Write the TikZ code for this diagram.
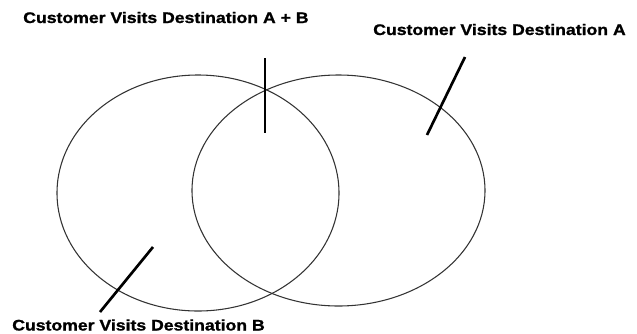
\documentclass[tikz,border=0pt]{standalone}
\usepackage{fontspec}
\newfontfamily\labfont[FakeStretch=1.15,FakeBold=1.2]{Liberation Sans Bold}
\usetikzlibrary{shapes.geometric}
\tikzset{
  venn/.style={ellipse, draw=black!80, line width=0.8pt, inner sep=0pt, outer sep=0pt},
  pointer/.style={draw=black, line width=2pt},
  lab/.style={inner sep=0pt, anchor=base west, font=\labfont\fontsize{11.5}{13}\selectfont, text=black}
}
\begin{document}
\begin{tikzpicture}[x=0.75pt, y=-0.75pt]
  \useasboundingbox (0,0) rectangle (637,333);
  \node[venn, minimum width=282*0.75pt, minimum height=236*0.75pt] (B) at (198,193) {};
  \node[venn, minimum width=293*0.75pt, minimum height=231*0.75pt] (A) at (338.5,190.5) {};
  \node[lab] (labAB) at (23,23) {Customer Visits Destination A + B};
  \node[lab] (labA) at (373,35) {Customer Visits Destination A};
  \node[lab] (labB) at (12,330.5) {Customer Visits Destination B};
  \coordinate (ab1) at (265,58);
  \coordinate (ab2) at (265,133);
  \coordinate (a1) at (465,57);
  \coordinate (a2) at (427,135);
  \coordinate (b1) at (153,247);
  \coordinate (b2) at (100,312);
  \draw[pointer] (ab1) -- (ab2);
  \draw[pointer] (a1) -- (a2);
  \draw[pointer] (b1) -- (b2);
\end{tikzpicture}
\end{document}
